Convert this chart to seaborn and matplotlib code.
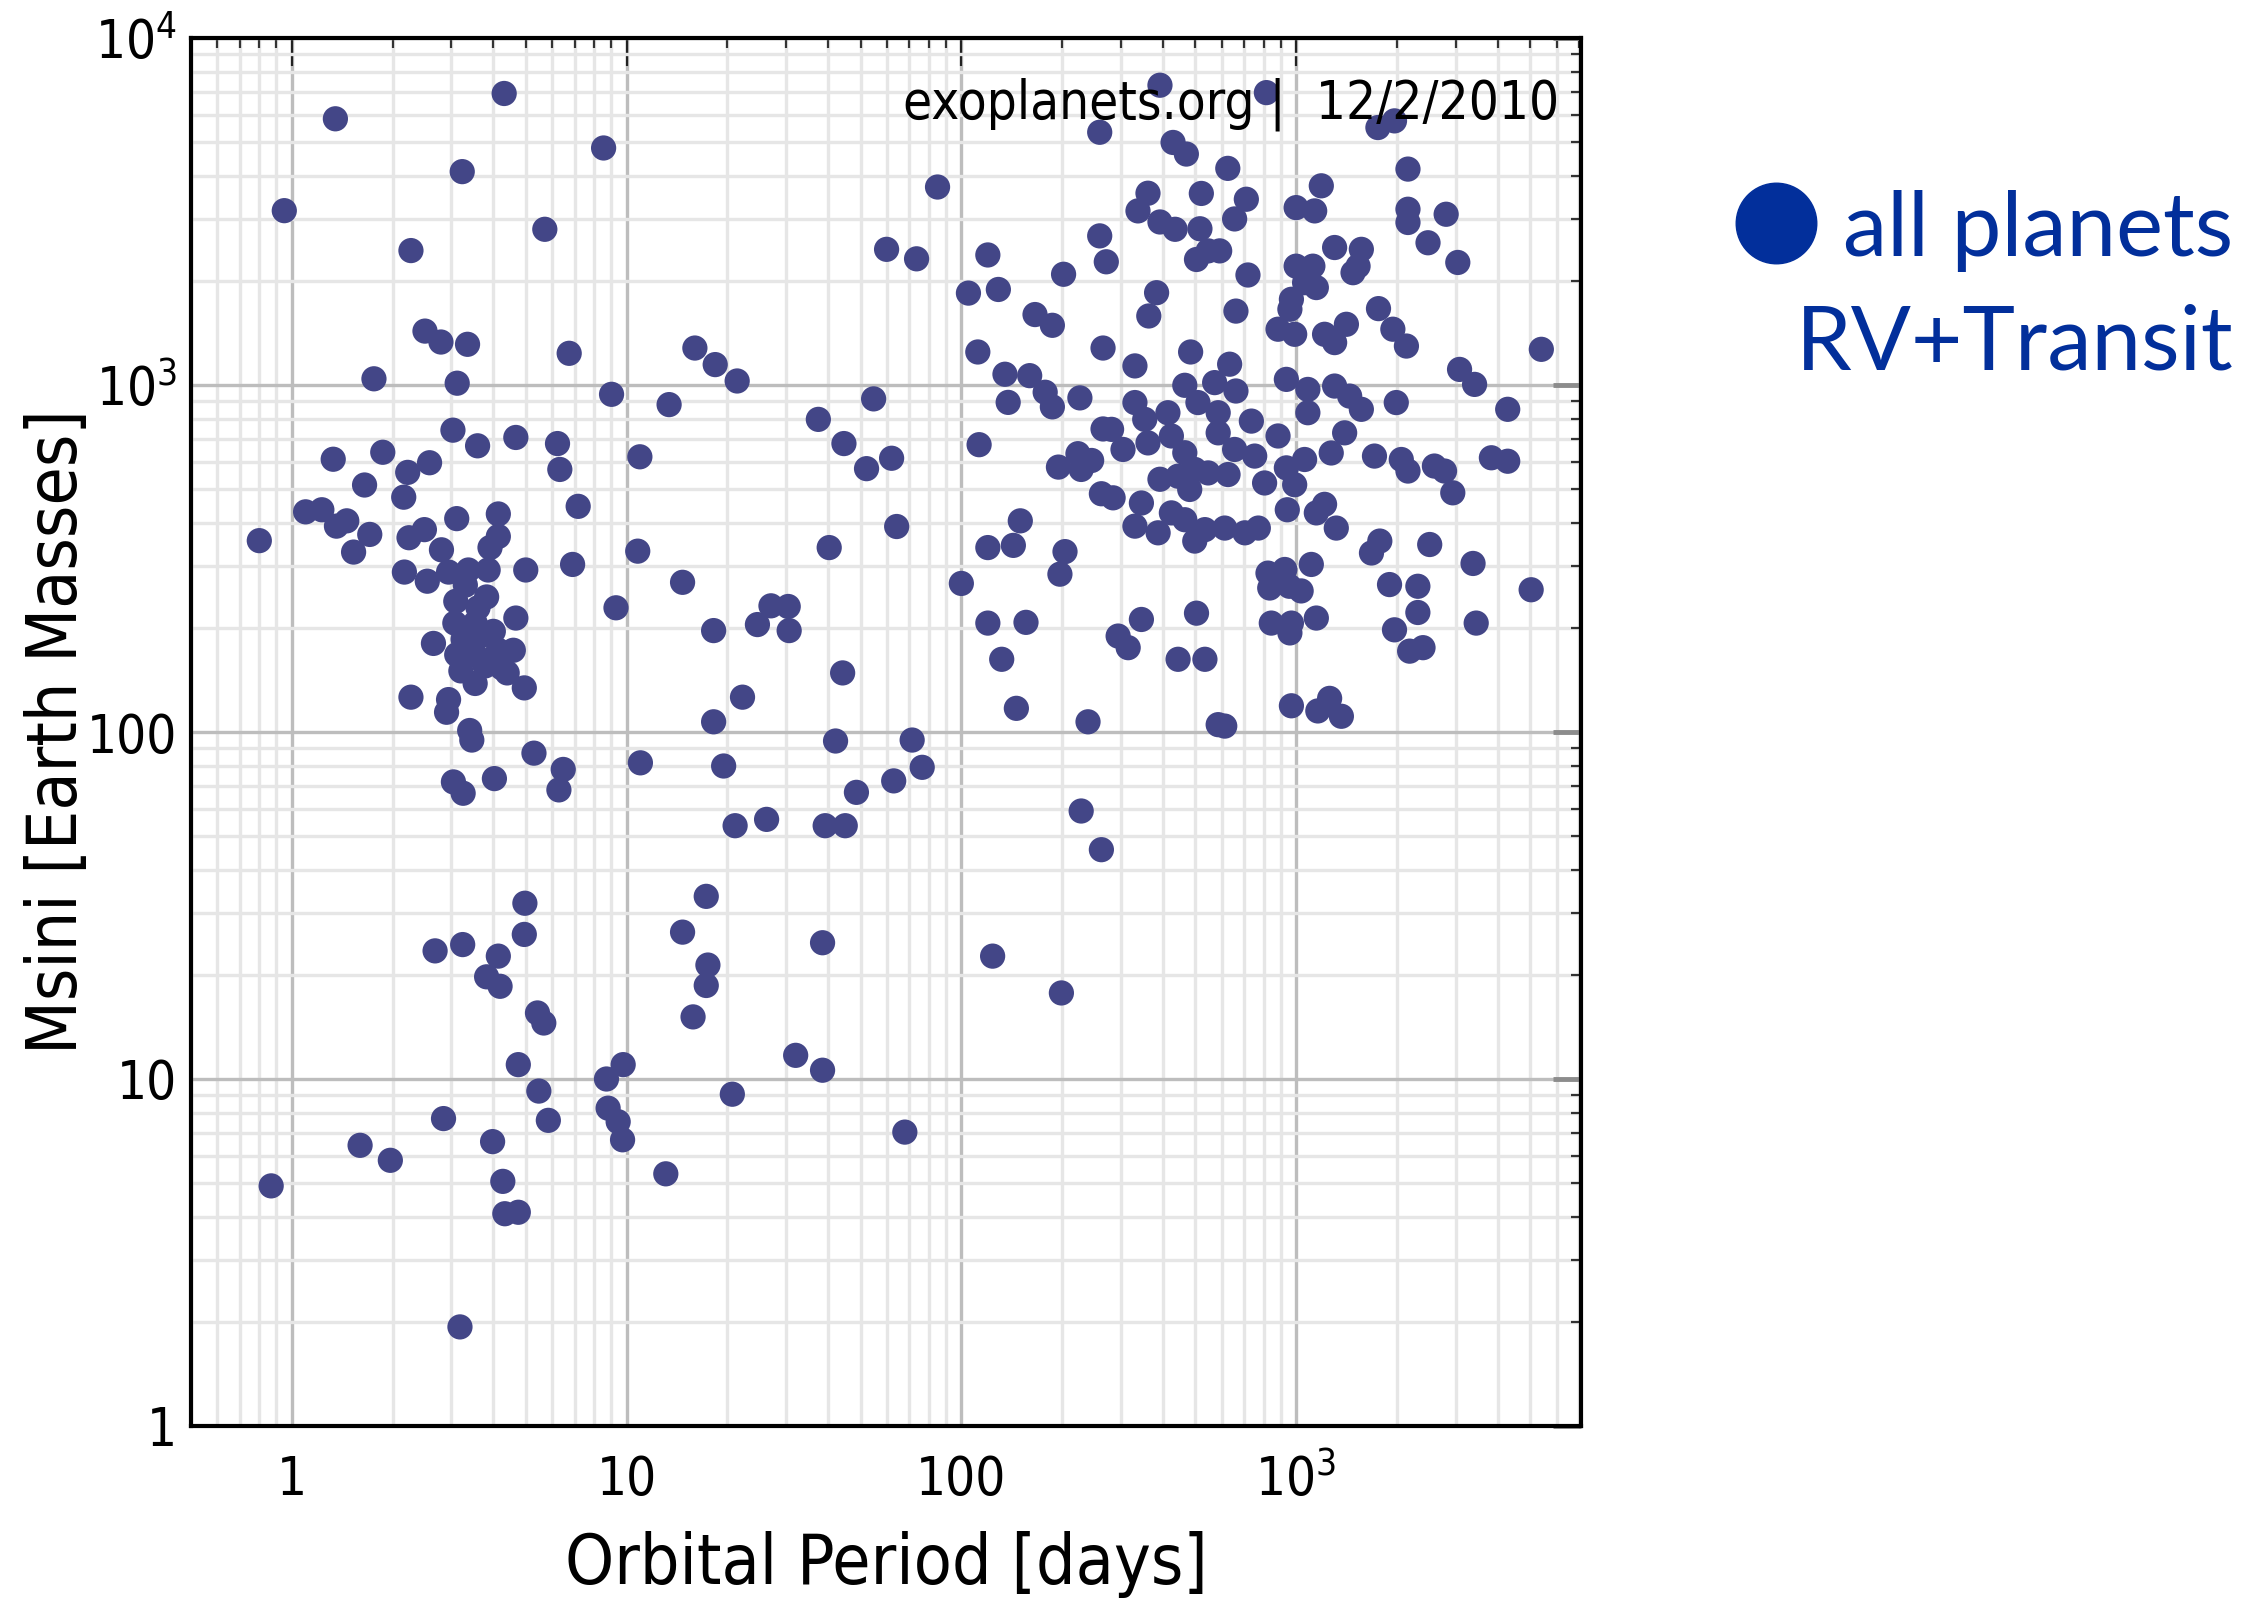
import numpy as np
import pandas as pd
import matplotlib
matplotlib.use("Agg")
import matplotlib.pyplot as plt
import seaborn as sns
from matplotlib.ticker import LogLocator, FixedLocator, FixedFormatter, NullFormatter
from matplotlib.lines import Line2D

# Orbital period [days] and minimum mass Msini [Earth masses] of known planets
period_days = [
    # short periods (< ~12 d)
    1.35, 4.31, 8.54, 3.23, 0.95, 5.70, 2.27, 2.50, 2.79, 3.35, 6.74, 1.76, 3.12, 9.02,
    3.03, 3.59, 4.67, 6.22, 6.32, 10.96, 1.87, 1.33, 2.58, 2.22, 1.65, 2.16, 7.17, 1.10,
    1.23, 1.36, 1.46, 3.11, 4.14, 1.71, 1.53, 0.80, 2.24, 2.49, 2.80, 4.14, 3.91, 5.0,
    6.90, 10.8, 2.17, 2.54, 2.94, 3.37, 3.86, 3.09, 3.82, 4.67, 9.30, 3.07, 3.53, 2.65,
    3.11, 3.53, 4.14, 4.59, 3.78, 4.24, 3.53, 4.95, 2.27, 2.94, 2.90, 3.40,
    3.3, 3.6, 4.0, 3.25, 3.9, 4.4, 3.2, 3.7,
    3.45, 5.29, 6.47, 6.28, 11.0, 3.04, 3.25, 4.03, 4.97, 4.95, 2.68, 3.24, 4.14, 3.82,
    4.19, 5.42, 5.66, 4.75, 5.47, 5.84, 2.84, 3.98, 1.60, 1.97, 0.868, 4.27, 4.33, 4.75,
    3.18, 8.71, 9.77, 8.81, 9.44, 9.73,
    # intermediate periods
    259, 84.9, 59.8, 73.5, 120, 259, 271, 202, 105, 129, 166, 187, 265, 16.0, 18.4, 21.4,
    13.4, 112, 135, 160, 178, 187, 138, 226, 265, 54.7, 37.4, 44.6, 52.1, 61.9, 113, 195,
    223, 245, 228, 262, 64.1, 150, 120, 143, 204, 197, 40.3, 14.7, 18.2, 27.0, 24.6, 30.4,
    30.6, 100, 120, 156, 132, 146, 239, 44.2, 22.2, 18.2,
    42.1, 71.3, 19.5, 76.4, 62.8, 48.6, 21.1, 26.2, 39.2, 45.0, 228, 262, 17.3, 14.7,
    17.5, 17.3, 15.8, 38.5, 124, 199, 32.0, 38.5, 20.7, 67.8, 13.1,
    # long periods
    392, 815, 1755, 1967, 429, 470, 2158, 625, 361, 521, 710, 337, 392, 435, 516, 655,
    1189, 1000, 1136, 2158, 2806, 2158, 2477, 3040, 1303, 1566, 1531, 1479, 546, 591, 504,
    718, 1000, 1122, 1060, 1149, 968, 958, 383, 363, 661, 1762, 1945, 2135, 883, 990, 1216,
    1303, 1413, 330, 484, 633, 5400, 3077, 3412, 935, 465, 571, 661, 1084, 1303, 1445,
    1566, 1991, 4285, 330, 509, 1084,
    735, 1396, 1273, 883, 1714, 2061, 2158, 2588, 2775, 2937, 3830, 4285, 1060, 935, 805,
    990, 941, 1216, 1149, 1318, 1778, 1679, 2506, 3376, 5035, 1901, 2310, 2310, 3450, 1967,
    2183, 2393, 824, 925, 1110, 834, 1035, 955, 843, 958, 968, 1149, 968, 1161, 1259, 1365,
    585, 612, 345, 294, 315, 444, 534, 504,
    281, 304, 284, 353, 414, 361, 424, 465, 392, 444, 481, 345, 330, 387, 424, 465, 498,
    534, 612, 703, 771, 546, 626, 585, 585, 655, 752, 498,
]

msini_earth = [
    5850, 6920, 4820, 4120, 3180, 2810, 2440, 1430, 1330, 1310, 1234, 1042, 1012, 940,
    741, 668, 706, 678, 571, 621, 640, 611, 597, 560, 515, 475, 447, 431,
    437, 392, 406, 412, 425, 371, 330, 356, 363, 383, 335, 366, 340, 293,
    304, 332, 289, 272, 289, 293, 293, 238, 245, 213, 228, 206, 206, 180,
    167, 167, 172, 172, 155, 153, 138, 134, 126, 124, 114, 101,
    265, 228, 195, 185, 160, 148, 150, 190,
    94.8, 86.9, 78.0, 68.1, 81.5, 71.8, 66.6, 73.4, 32.1, 26.1, 23.4, 24.4, 22.6, 19.7,
    18.5, 15.5, 14.5, 11.0, 9.23, 7.6, 7.69, 6.6, 6.44, 5.83, 4.92, 5.07, 4.09, 4.13,
    1.93, 10.0, 11.0, 8.24, 7.53, 6.68,
    5350, 3720, 2460, 2310, 2370, 2690, 2265, 2085, 1840, 1885, 1596, 1486, 1278, 1278, 1145, 1027,
    878, 1245, 1074, 1064, 953, 865, 891, 918, 747, 912, 796, 678, 574, 615, 673, 580,
    634, 606, 571, 486, 391, 406, 340, 345, 331, 285, 340, 270, 196, 231, 204, 230,
    196, 268, 206, 207, 162, 117, 107, 148, 126, 107,
    94.2, 94.8, 79.8, 79.1, 72.3, 67.0, 53.7, 56.0, 53.7, 53.7, 59.2, 45.8, 33.6, 26.5,
    21.3, 18.6, 15.1, 24.7, 22.6, 17.7, 11.7, 10.6, 9.04, 7.03, 5.33,
    7310, 6960, 5520, 5770, 5000, 4630, 4190, 4210, 3570, 3565, 3430, 3175, 2950, 2810, 2820, 3010,
    3750, 3245, 3175, 3210, 3105, 2940, 2570, 2255, 2490, 2460, 2200, 2107, 2435, 2435, 2300,
    2075, 2200, 2200, 1972, 1909, 1766, 1653, 1845, 1581, 1633, 1660, 1448, 1295, 1448, 1400, 1400,
    1325, 1496, 1135, 1245, 1148, 1267, 1109, 1004, 1038, 998, 1016, 961, 971, 993, 929,
    851, 890, 851, 890, 890, 832,
    787, 728, 637, 713, 624, 610, 565, 584, 565, 489, 617, 603, 610, 577, 522,
    516, 437, 453, 428, 387, 355, 328, 347, 306, 257, 266, 263, 221, 206, 197,
    171, 175, 287, 294, 304, 260, 255, 263, 206, 193, 206, 213, 119, 115, 125, 111,
    105, 104, 211, 189, 175, 162, 162, 220,
    745, 652, 473, 796, 832, 681, 713, 638, 535, 546, 500, 457, 392, 375, 428, 409, 355,
    383, 387, 375, 387, 558, 552, 728, 832, 652, 624, 571,
]

x_ticks = [1, 10, 100, 1000]
x_tick_labels = ["1", "10", "100", r"$\mathregular{10^3}$"]
y_ticks = [1, 10, 100, 1000, 10000]
y_tick_labels = ["1", "10", "100", r"$\mathregular{10^3}$", r"$\mathregular{10^4}$"]

point_color = "#434687"
legend_color = "#022f9b"

sns.set_theme(style="white")
plt.rcParams["font.family"] = ["DejaVu Sans"]
plt.rcParams["font.stretch"] = "condensed"

fig = plt.figure(figsize=(22.52, 16), dpi=100)
ax = fig.add_axes([0.0848, 0.10875, 0.6173, 0.8675])

df = pd.DataFrame({"period": period_days, "msini": msini_earth})
ax.set_xscale("log")
ax.set_yscale("log")
sns.scatterplot(data=df, x="period", y="msini", ax=ax, s=330, color=point_color,
                edgecolor="none", linewidth=0, zorder=3, legend=False)
ax.set_xlim(0.5, 7100)
ax.set_ylim(1, 10000)

# ticks and grid
ax.xaxis.set_major_locator(FixedLocator(x_ticks))
ax.xaxis.set_major_formatter(FixedFormatter(x_tick_labels))
ax.yaxis.set_major_locator(FixedLocator(y_ticks))
ax.yaxis.set_major_formatter(FixedFormatter(y_tick_labels))
ax.xaxis.set_minor_locator(LogLocator(base=10, subs=np.arange(2, 10), numticks=20))
ax.yaxis.set_minor_locator(LogLocator(base=10, subs=np.arange(2, 10), numticks=20))
ax.xaxis.set_minor_formatter(NullFormatter())
ax.yaxis.set_minor_formatter(NullFormatter())

ax.set_axisbelow(True)
ax.grid(which="minor", color="#e6e6e6", linewidth=2.4)
ax.grid(which="major", color="#bdbdbd", linewidth=2.4)

ax.tick_params(which="both", direction="in", top=True, right=True)
ax.tick_params(which="major", length=20, width=1.6, color="#222222")
ax.tick_params(which="minor", length=7, width=1.6, color="#333333")
ax.tick_params(axis="y", which="major", color="#8c8c8c", width=3.5)
ax.tick_params(axis="x", which="major", labelsize=38, pad=20, labelcolor="black")
ax.tick_params(axis="y", which="major", labelsize=38, pad=10, labelcolor="black")

for side in ["left", "right", "top", "bottom"]:
    ax.spines[side].set_visible(True)
    ax.spines[side].set_color("black")
    ax.spines[side].set_linewidth(3)

ax.set_xlabel("Orbital Period [days]", fontsize=50, color="black", labelpad=17)
ax.set_ylabel("Msini [Earth Masses]", fontsize=50, color="black", labelpad=-3)

ax.text(0.984, 0.942, "exoplanets.org |  12/2/2010", transform=ax.transAxes,
        ha="right", va="baseline", fontsize=38, color="black", zorder=5)

# legend marker and caption
fig.add_artist(Line2D([1776 / 2252], [1 - 223 / 1600], marker="o", markersize=58,
                      color=legend_color, linestyle="none", transform=fig.transFigure))
fig.text(2233 / 2252, 1 - 256 / 1600, "all planets", ha="right", va="baseline",
         fontsize=64, color=legend_color, family="Lato", fontstretch="normal")
fig.text(2233 / 2252, 1 - 369 / 1600, "RV+Transit", ha="right", va="baseline",
         fontsize=64, color=legend_color, family="Lato", fontstretch="normal")

fig.savefig("out.png", dpi=100, facecolor="white")
